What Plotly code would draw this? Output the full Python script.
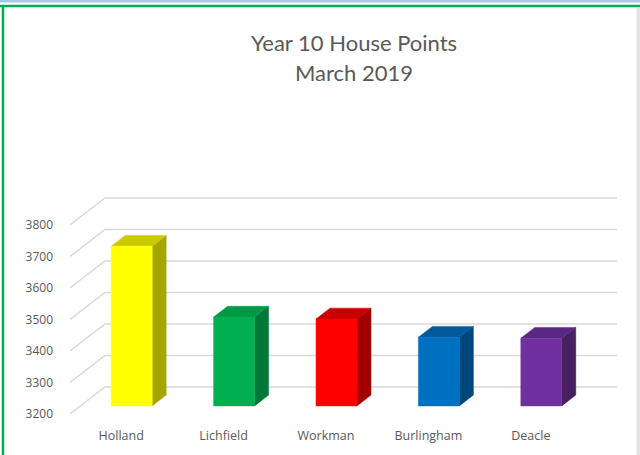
import plotly.graph_objects as go

# ---- data ----
houses = ["Holland", "Lichfield", "Workman", "Burlingham", "Deacle"]
points = [3707, 3482, 3476, 3418, 3415]
tick_values = [3200, 3300, 3400, 3500, 3600, 3700, 3800]
front_colors = ["#FFFF00", "#00B050", "#FF0000", "#0070C0", "#7030A0"]
top_colors = ["#CACA00", "#009A45", "#C80000", "#005A9C", "#5A2784"]
side_colors = ["#A6A600", "#007838", "#A00000", "#00467A", "#47205F"]
title_lines = ["Year 10 House Points", "March 2019"]

# ---- geometry / style ----
W, H = 640, 455
L, R, T, B = 70, 23, 180, 35
PW, PH = W - L - R, H - T - B
cat_px = 102.4
y_px = 0.315
x_range = [-0.5, -0.5 + PW / cat_px]
y0 = 3200 - 6 / y_px
y_range = [y0, y0 + PH / y_px]
DX = 35 / cat_px          # full depth offset in category units
DY = 27 / y_px            # full depth offset in value units
F0, F1 = 0.3, 0.7         # bar depth placement
HALF = 0.2                # half bar width
BASE = 3200


def px_x(p):
    return (p - L) / PW


def px_y(p):
    return (H - B - p) / PH


fig = go.Figure()

# gridlines (left wall diagonal + back wall horizontal)
n = len(houses)
for v in tick_values:
    xs = [-0.5, -0.5 + DX, -0.5 + DX + n]
    ys = [v, v + DY, v + DY]
    fig.add_trace(go.Scatter(x=xs, y=ys, mode="lines",
                             line=dict(color="#D9D9D9", width=1.5),
                             hoverinfo="skip", showlegend=False))

# 3D-look bars
for i, (name, val) in enumerate(zip(houses, points)):
    fx0 = i - HALF + F0 * DX
    fx1 = i + HALF + F0 * DX
    fb = BASE + F0 * DY
    ft = val + F0 * DY
    ddx = (F1 - F0) * DX
    ddy = (F1 - F0) * DY
    # side face
    fig.add_trace(go.Scatter(
        x=[fx1, fx1 + ddx, fx1 + ddx, fx1, fx1],
        y=[fb, fb + ddy, ft + ddy, ft, fb],
        fill="toself", fillcolor=side_colors[i], mode="lines",
        line=dict(color=side_colors[i], width=0.5),
        hoverinfo="skip", showlegend=False))
    # top face
    fig.add_trace(go.Scatter(
        x=[fx0, fx1, fx1 + ddx, fx0 + ddx, fx0],
        y=[ft, ft, ft + ddy, ft + ddy, ft],
        fill="toself", fillcolor=top_colors[i], mode="lines",
        line=dict(color=top_colors[i], width=0.5),
        hoverinfo="skip", showlegend=False))
    # front face
    fig.add_trace(go.Scatter(
        x=[fx0, fx1, fx1, fx0, fx0],
        y=[fb, fb, ft, ft, fb],
        fill="toself", fillcolor=front_colors[i], mode="lines",
        line=dict(color=front_colors[i], width=0.5),
        name=name, hovertemplate=f"{name}: {val}<extra></extra>",
        showlegend=False))

# title
for line_text, py in zip(title_lines, [42, 72]):
    fig.add_annotation(x=px_x(354), y=px_y(py), xref="paper", yref="paper",
                       xanchor="center", yanchor="middle",
                       text=line_text, showarrow=False,
                       font=dict(family="Lato", size=22, color="#595959"))

# frame decorations
shapes = [
    dict(type="rect", xref="paper", yref="paper",
         x0=px_x(0), x1=px_x(W), y0=px_y(0), y1=px_y(2.5),
         fillcolor="#A9C6EA", line=dict(width=0), layer="above"),
    dict(type="line", xref="paper", yref="paper",
         x0=px_x(0), x1=px_x(W), y0=px_y(6), y1=px_y(6),
         line=dict(color="#00B050", width=2.5)),
    dict(type="line", xref="paper", yref="paper",
         x0=px_x(3), x1=px_x(3), y0=px_y(6), y1=px_y(H),
         line=dict(color="#00B050", width=2.5)),
    dict(type="rect", xref="paper", yref="paper",
         x0=px_x(636.5), x1=px_x(W), y0=px_y(8), y1=px_y(H),
         fillcolor="#E3E3E3", line=dict(width=0)),
]

fig.update_layout(
    width=W, height=H, autosize=False,
    margin=dict(l=L, r=R, t=T, b=B, pad=0),
    paper_bgcolor="white", plot_bgcolor="white",
    showlegend=False, shapes=shapes,
    xaxis=dict(range=x_range, showgrid=False, zeroline=False, showline=False,
               tickmode="array", tickvals=list(range(n)), ticktext=houses,
               ticks="", ticklabelstandoff=6,
               tickfont=dict(family="Open Sans", size=12.5, color="#595959"),
               fixedrange=True),
    yaxis=dict(range=y_range, showgrid=False, zeroline=False, showline=False,
               tickmode="array", tickvals=tick_values,
               ticktext=[str(v) for v in tick_values],
               ticks="", ticklabelstandoff=16,
               tickfont=dict(family="Open Sans", size=12, color="#595959"),
               fixedrange=True),
)

fig.write_html("out.html")
